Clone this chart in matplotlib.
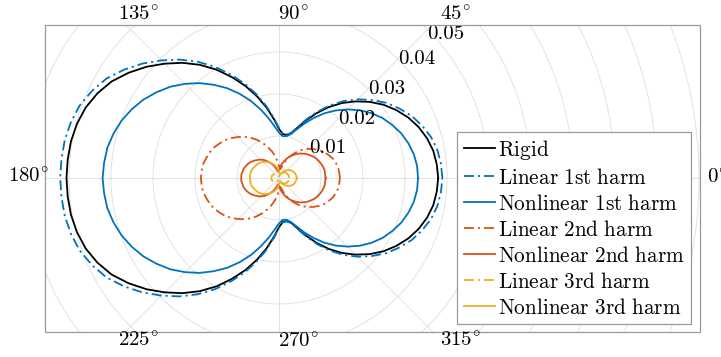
import matplotlib
matplotlib.use("Agg")
import matplotlib.pyplot as plt
import numpy as np

plt.rcParams['font.family'] = 'serif'
plt.rcParams['font.serif'] = ['cmr10']
plt.rcParams['mathtext.fontset'] = 'cm'
plt.rcParams['axes.formatter.use_mathtext'] = True

# angle (deg) of the samples, 0..180; the patterns are symmetric about the 0-180 axis
theta_deg = list(range(0, 181, 5))

rigid = [0.0379, 0.0377, 0.0373, 0.0365, 0.0354, 0.0340, 0.0323, 0.0304, 0.0282, 0.0258,
         0.0233, 0.0206, 0.0178, 0.0151, 0.0127, 0.0110, 0.0104, 0.0105, 0.0117, 0.0141,
         0.0170, 0.0201, 0.0233, 0.0265, 0.0298, 0.0329, 0.0358, 0.0385, 0.0412, 0.0437,
         0.0460, 0.0477, 0.0490, 0.0498, 0.0503, 0.0505, 0.0506]
lin_1st = [0.0389, 0.0387, 0.0383, 0.0375, 0.0363, 0.0349, 0.0331, 0.0312, 0.0289, 0.0265,
           0.0239, 0.0211, 0.0182, 0.0154, 0.0129, 0.0111, 0.0105, 0.0106, 0.0119, 0.0144,
           0.0174, 0.0206, 0.0239, 0.0272, 0.0306, 0.0338, 0.0368, 0.0396, 0.0424, 0.0450,
           0.0474, 0.0491, 0.0505, 0.0513, 0.0518, 0.0520, 0.0521]
nonlin_1st = [0.0331, 0.0330, 0.0326, 0.0319, 0.0310, 0.0298, 0.0285, 0.0269, 0.0251, 0.0231,
              0.0210, 0.0188, 0.0165, 0.0143, 0.0123, 0.0108, 0.0101, 0.0100, 0.0108, 0.0124,
              0.0145, 0.0169, 0.0195, 0.0221, 0.0247, 0.0271, 0.0295, 0.0317, 0.0338, 0.0356,
              0.0373, 0.0387, 0.0399, 0.0408, 0.0415, 0.0418, 0.0420]
lin_2nd = [0.0145, 0.0144, 0.0143, 0.0140, 0.0136, 0.0130, 0.0124, 0.0116, 0.0107, 0.0098,
           0.0088, 0.0077, 0.0065, 0.0053, 0.0041, 0.0030, 0.0022, 0.0021, 0.0029, 0.0040,
           0.0053, 0.0066, 0.0079, 0.0092, 0.0105, 0.0117, 0.0128, 0.0138, 0.0148, 0.0157,
           0.0164, 0.0171, 0.0176, 0.0180, 0.0184, 0.0185, 0.0186]
nonlin_2nd = [0.0111, 0.0110, 0.0110, 0.0108, 0.0105, 0.0102, 0.0098, 0.0093, 0.0088, 0.0082,
              0.0076, 0.0069, 0.0062, 0.0055, 0.0047, 0.0039, 0.0032, 0.0024, 0.0018, 0.0015,
              0.0016, 0.0021, 0.0028, 0.0035, 0.0042, 0.0049, 0.0056, 0.0062, 0.0067, 0.0072,
              0.0077, 0.0081, 0.0084, 0.0087, 0.0088, 0.0090, 0.0090]
lin_3rd = [0.0024, 0.0024, 0.0024, 0.0024, 0.0023, 0.0022, 0.0022, 0.0021, 0.0020, 0.0018,
           0.0017, 0.0016, 0.0014, 0.0013, 0.0011, 0.0009, 0.0008, 0.0006, 0.0005, 0.0004,
           0.0004, 0.0005, 0.0006, 0.0007, 0.0009, 0.0010, 0.0011, 0.0012, 0.0014, 0.0015,
           0.0016, 0.0017, 0.0017, 0.0018, 0.0018, 0.0018, 0.0018]
nonlin_3rd = [0.0042, 0.0042, 0.0041, 0.0040, 0.0039, 0.0037, 0.0035, 0.0032, 0.0029, 0.0026,
              0.0023, 0.0019, 0.0016, 0.0012, 0.0009, 0.0008, 0.0009, 0.0012, 0.0016, 0.0020,
              0.0025, 0.0029, 0.0034, 0.0038, 0.0042, 0.0046, 0.0050, 0.0054, 0.0057, 0.0060,
              0.0062, 0.0064, 0.0066, 0.0068, 0.0069, 0.0069, 0.0069]

labels = ['Rigid', 'Linear 1st harm', 'Nonlinear 1st harm', 'Linear 2nd harm',
          'Nonlinear 2nd harm', 'Linear 3rd harm', 'Nonlinear 3rd harm']

r_rings = [0.01, 0.02, 0.03, 0.04, 0.05, 0.06, 0.07, 0.08, 0.09, 0.10]
r_labels = ['0.01', '0.02', '0.03', '0.04', '0.05']
theta_ticks = [0, 45, 90, 135, 180, 225, 270, 315]

# figure geometry (pixels)
W, H = 721, 357
cx, cy = 279, 178          # polar origin, from top-left
rmax = 0.10
px_per_unit = 4200
box = (45, 25, 700, 332)   # left, top, right, bottom

fig = plt.figure(figsize=(W / 100, H / 100), dpi=100)
rad = rmax * px_per_unit
ax = fig.add_axes([(cx - rad) / W, (H - cy - rad) / H, 2 * rad / W, 2 * rad / H],
                  projection='polar')
ax.set_ylim(0, rmax)
ax.spines['polar'].set_visible(False)
ax.set_thetagrids(theta_ticks, labels=[''] * len(theta_ticks))
ax.set_rgrids(r_rings, labels=[''] * len(r_rings))
ax.grid(True, color='#dddddd', linewidth=0.6)
ax.tick_params(length=0)

clip = plt.Rectangle((box[0] / W, 1 - box[3] / H), (box[2] - box[0]) / W,
                     (box[3] - box[1]) / H, transform=fig.transFigure)
for gl in ax.xaxis.get_gridlines() + ax.yaxis.get_gridlines():
    gl.set_clip_path(clip)


def full(vals):
    return np.concatenate([vals, np.asarray(vals)[-2::-1]])


th = np.deg2rad(np.concatenate([theta_deg, 360 - np.asarray(theta_deg)[-2::-1]]))

dd = (0, (5.5, 2.2, 1.2, 2.2))
series = [rigid, lin_1st, nonlin_1st, lin_2nd, nonlin_2nd, lin_3rd, nonlin_3rd]
colors = ['#000000', '#0072BD', '#0072BD', '#D95319', '#D95319', '#EDB120', '#EDB120']
styles = ['-', dd, '-', dd, '-', dd, '-']
handles = []
for vals, c, ls, lab in zip(series, colors, styles, labels):
    mlab = r'$\mathrm{%s}$' % lab.replace(' ', r'\ ')
    ln, = ax.plot(th, full(vals), color=c, linestyle=ls, linewidth=1.3, label=mlab)
    ln.set_clip_path(clip)
    handles.append(ln)

# radial labels at the 45 deg spoke; the outermost one is pushed down a little
for r, s in zip(r_rings, r_labels):
    dy = -5 if s == '0.05' else 0
    ax.annotate(s, (np.deg2rad(45), r), xytext=(0, dy), textcoords='offset pixels',
                ha='left', va='center', fontsize=15)

# angle labels sit outside the clipped box
ang_pos = {0: (707, 178, 'left'), 45: (440, 15, 'left'), 90: (278, 15, 'left'),
           135: (118, 15, 'left'), 180: (49, 177, 'right'), 225: (118, 341, 'left'),
           270: (278, 342, 'left'), 315: (440, 341, 'left')}
for a in theta_ticks:
    x, y, ha = ang_pos[a]
    fig.text(x / W, 1 - y / H, r'$%d^{\!\circ}$' % a, ha=ha, va='center', fontsize=15)

frame = plt.Rectangle((box[0] / W, 1 - box[3] / H), (box[2] - box[0]) / W,
                      (box[3] - box[1]) / H, transform=fig.transFigure,
                      fill=False, edgecolor='#999999', linewidth=0.9)
fig.add_artist(frame)

leg = ax.legend(handles=handles, loc='lower right', bbox_to_anchor=(691 / W, 1 - 324 / H),
                bbox_transform=fig.transFigure, borderaxespad=0, fontsize=15.3,
                handlelength=1.45, handletextpad=0.15, labelspacing=0.28,
                borderpad=0.3, fancybox=False, framealpha=1)
leg.get_frame().set_edgecolor('#999999')
leg.get_frame().set_linewidth(0.9)

fig.savefig('out.png', dpi=100)
